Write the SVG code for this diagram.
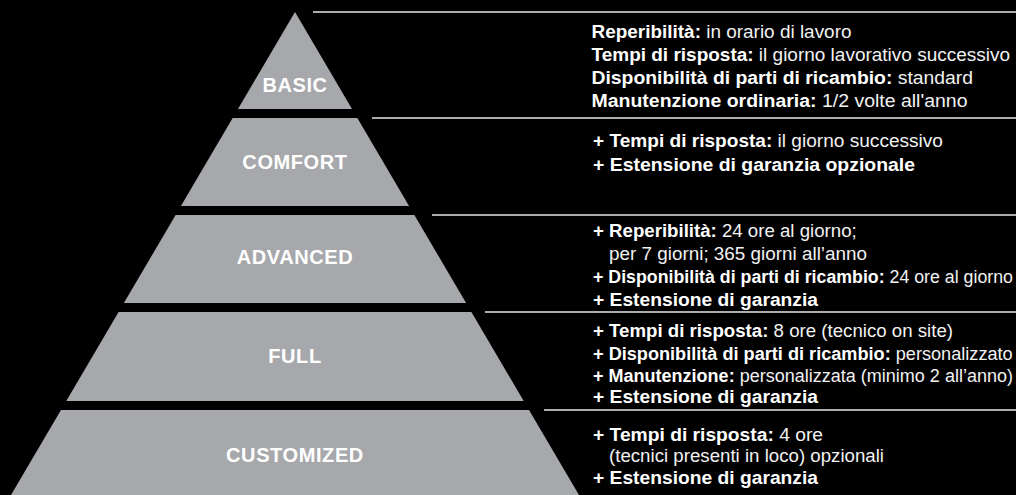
<svg xmlns="http://www.w3.org/2000/svg" width="1016" height="495" viewBox="0 0 1016 495">
<style>
.tier{fill:#a7a8ab}
.lbl{font-family:"Liberation Sans",Arial,sans-serif;font-weight:bold;font-size:20px;fill:#fff;text-anchor:middle;letter-spacing:0.6px}
.sep{stroke:#e6e6e6;stroke-width:1.5;fill:none}
.d{font-family:"Liberation Sans",Arial,sans-serif;font-size:17.5px;fill:#fff}
.b{font-weight:bold}
.r{font-weight:normal;fill:#f2f2f2}
</style>
<rect width="1016" height="495" fill="#000"/>
<g id="separators">
<line class="sep" x1="313" y1="12" x2="1016" y2="12"/>
<line class="sep" x1="372" y1="118" x2="1016" y2="118"/>
<line class="sep" x1="432" y1="215" x2="1016" y2="215"/>
<line class="sep" x1="485" y1="312" x2="1016" y2="312"/>
<line class="sep" x1="544" y1="410" x2="1016" y2="410"/>
</g>
<g id="basic">
<polygon class="tier" points="295,12 352,109 238,109"/>
<text class="lbl" x="295" y="92">BASIC</text>
<text class="d" x="591.5" y="38.3" textLength="260" lengthAdjust="spacingAndGlyphs"><tspan class="b">Reperibilità:</tspan><tspan class="r"> in orario di lavoro</tspan></text>
<text class="d" x="591.5" y="61.1" textLength="418.5" lengthAdjust="spacingAndGlyphs"><tspan class="b">Tempi di risposta:</tspan><tspan class="r"> il giorno lavorativo successivo</tspan></text>
<text class="d" x="591.5" y="83.9" textLength="381.5" lengthAdjust="spacingAndGlyphs"><tspan class="b">Disponibilità di parti di ricambio:</tspan><tspan class="r"> standard</tspan></text>
<text class="d" x="591.5" y="106.7" textLength="376" lengthAdjust="spacingAndGlyphs"><tspan class="b">Manutenzione ordinaria:</tspan><tspan class="r"> 1/2 volte all'anno</tspan></text>
</g>
<g id="comfort">
<polygon class="tier" points="232.67,118 357.33,118 409.07,206 180.93,206"/>
<text class="lbl" x="295" y="169">COMFORT</text>
<text class="d" x="593" y="147.3" textLength="350" lengthAdjust="spacingAndGlyphs"><tspan class="b">+ Tempi di risposta:</tspan><tspan class="r"> il giorno successivo</tspan></text>
<text class="d b" x="593" y="170.7" textLength="322" lengthAdjust="spacingAndGlyphs">+ Estensione di garanzia opzionale</text>
</g>
<g id="advanced">
<polygon class="tier" points="175.64,215 414.36,215 466.11,303 123.89,303"/>
<text class="lbl" x="295" y="264.3">ADVANCED</text>
<text class="d" x="593" y="236.7" textLength="263.7" lengthAdjust="spacingAndGlyphs"><tspan class="b">+ Reperibilità:</tspan><tspan class="r"> 24 ore al giorno;</tspan></text>
<text class="d r" x="609" y="259.7" textLength="258" lengthAdjust="spacingAndGlyphs">per 7 giorni; 365 giorni all’anno</text>
<text class="d" x="593" y="282.7" textLength="420" lengthAdjust="spacingAndGlyphs"><tspan class="b">+ Disponibilità di parti di ricambio:</tspan><tspan class="r"> 24 ore al giorno</tspan></text>
<text class="d b" x="593" y="305.7" textLength="225" lengthAdjust="spacingAndGlyphs">+ Estensione di garanzia</text>
</g>
<g id="full">
<polygon class="tier" points="118.6,312 471.4,312 523.73,401 66.27,401"/>
<text class="lbl" x="295" y="363.3">FULL</text>
<text class="d" x="593" y="337.3" textLength="360" lengthAdjust="spacingAndGlyphs"><tspan class="b">+ Tempi di risposta:</tspan><tspan class="r"> 8 ore (tecnico on site)</tspan></text>
<text class="d" x="593" y="359.5" textLength="419.7" lengthAdjust="spacingAndGlyphs"><tspan class="b">+ Disponibilità di parti di ricambio:</tspan><tspan class="r"> personalizzato</tspan></text>
<text class="d" x="593" y="381.5" textLength="420" lengthAdjust="spacingAndGlyphs"><tspan class="b">+ Manutenzione:</tspan><tspan class="r"> personalizzata (minimo 2 all’anno)</tspan></text>
<text class="d b" x="593" y="403" textLength="225" lengthAdjust="spacingAndGlyphs">+ Estensione di garanzia</text>
</g>
<g id="customized">
<polygon class="tier" points="60.98,410 529.02,410 579,495 11,495"/>
<text class="lbl" x="295" y="462">CUSTOMIZED</text>
<text class="d" x="593" y="440.7" textLength="230" lengthAdjust="spacingAndGlyphs"><tspan class="b">+ Tempi di risposta:</tspan><tspan class="r"> 4 ore</tspan></text>
<text class="d r" x="609" y="462" textLength="275" lengthAdjust="spacingAndGlyphs">(tecnici presenti in loco) opzionali</text>
<text class="d b" x="593" y="484" textLength="225" lengthAdjust="spacingAndGlyphs">+ Estensione di garanzia</text>
</g>
</svg>
